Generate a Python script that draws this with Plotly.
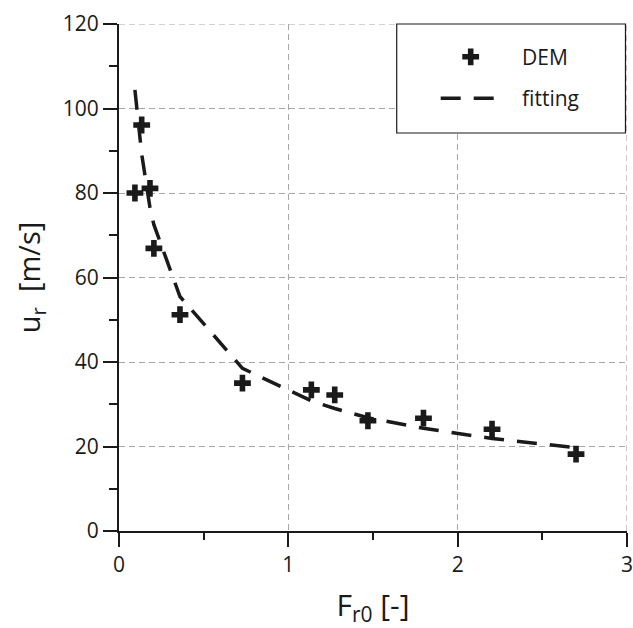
import plotly.graph_objects as go

# DEM data
fr0_dem = [0.094, 0.134, 0.183, 0.206, 0.36, 0.729, 1.136, 1.274, 1.47, 1.798, 2.203, 2.699]
ur_dem = [80.0, 96.1, 81.1, 66.9, 51.2, 35.0, 33.4, 32.2, 26.1, 26.7, 24.1, 18.2]

# fitting curve values
fr0_fit = [0.094, 0.134, 0.183, 0.206, 0.36, 0.729, 1.136, 1.274, 1.47, 1.798, 2.203, 2.699]
ur_fit = [104.4, 89.2, 76.5, 72.5, 55.5, 38.5, 30.8, 29.0, 26.8, 24.3, 21.9, 19.7]

x_ticks = [0, 1, 2, 3]
y_ticks = [0, 20, 40, 60, 80, 100, 120]

ink = "#1a1a1a"
grid_col = "#a6a6a6"
grid_dash = "6px,4px"
font_family = "Open Sans"
pad = "\u00a0\u00a0\u00a0"

fig = go.Figure()
fig.add_trace(go.Scatter(
    x=fr0_dem, y=ur_dem, mode="markers", name=pad + "DEM",
    marker=dict(symbol="cross", size=14, color=ink, line=dict(width=0)),
    legendgroup="a",
))
fig.add_trace(go.Scatter(
    x=fr0_fit, y=ur_fit, mode="lines", name=pad + "fitting",
    line=dict(color=ink, width=3.5, dash="20px,13px"),
    legendgroup="b",
))

axis_common = dict(
    showline=True, linecolor=ink, linewidth=2,
    ticks="outside", tickcolor=ink, tickwidth=2, ticklen=14,
    showgrid=True, gridcolor=grid_col, gridwidth=1.2, griddash=grid_dash,
    zeroline=False, mirror=False, automargin=False,
    tickfont=dict(family=font_family, size=21, color=ink),
    ticklabeloverflow="allow",
)

fig.update_xaxes(
    range=[0, 3], tickvals=x_ticks, ticktext=[str(v) for v in x_ticks],
    minor=dict(dtick=0.5, ticks="outside", ticklen=7, tickcolor=ink, tickwidth=2, showgrid=False),
    title=dict(text="F<sub>r0</sub> [-]", font=dict(family=font_family, size=30, color=ink), standoff=18),
    **axis_common,
)
fig.update_yaxes(
    range=[0, 120], tickvals=y_ticks, ticktext=[str(v) for v in y_ticks],
    minor=dict(dtick=10, ticks="outside", ticklen=8, tickcolor=ink, tickwidth=2, showgrid=False),
    title=dict(text="u<sub>r</sub>  [m/s]", font=dict(family=font_family, size=29, color=ink), standoff=14),
    **axis_common,
)

# edge gridlines (top at y=120, right at x=3)
fig.add_shape(type="line", xref="paper", yref="y", x0=0, x1=1, y0=y_ticks[-1], y1=y_ticks[-1],
              line=dict(color=grid_col, width=1.2, dash=grid_dash), layer="below")
fig.add_shape(type="line", xref="x", yref="paper", x0=x_ticks[-1], x1=x_ticks[-1], y0=0, y1=1,
              line=dict(color=grid_col, width=1.2, dash=grid_dash), layer="below")

# legend frame
fig.add_shape(
    type="rect", xref="paper", yref="paper",
    x0=0.5467, x1=0.997, y0=0.785, y1=1.0,
    line=dict(color=ink, width=1.2), fillcolor="white", layer="above",
)

fig.update_layout(
    width=633, height=628,
    margin=dict(l=119, r=5.5, t=24, b=97),
    paper_bgcolor="white", plot_bgcolor="white",
    showlegend=True,
    legend=dict(
        x=0.6234, y=0.975, xanchor="left", yanchor="top",
        bgcolor="rgba(0,0,0,0)", borderwidth=0,
        font=dict(family=font_family, size=21, color=ink),
        itemwidth=60, tracegroupgap=11, traceorder="grouped",
    ),
)

fig.write_html("out.html")
